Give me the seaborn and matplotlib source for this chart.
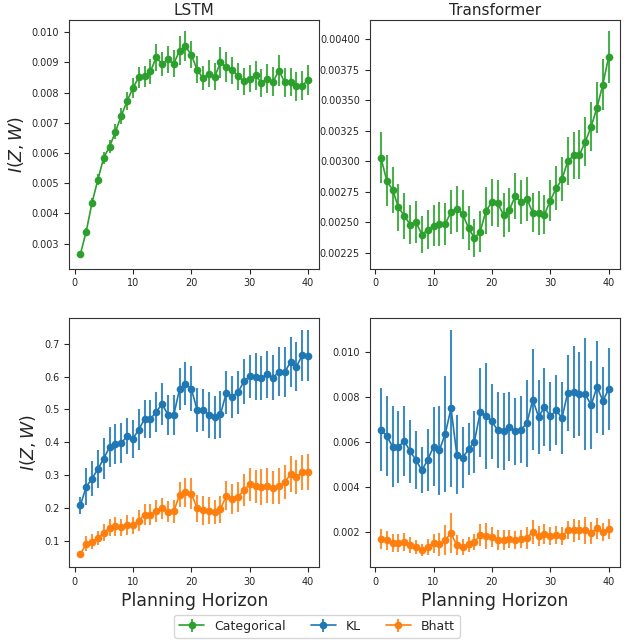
import numpy as np
import matplotlib
matplotlib.use("Agg")
import matplotlib.pyplot as plt
import seaborn as sns
from matplotlib.container import ErrorbarContainer

sns.set_style("ticks")
plt.rcParams.update({
    'font.family': ['DejaVu Sans'],
    'xtick.labelsize': 7,
    'ytick.labelsize': 7,
    'axes.edgecolor': '0.2',
})

horizon = list(range(1, 41))

# LSTM, categorical
lstm_cat = [0.00265, 0.00340, 0.00436, 0.00512, 0.00585, 0.00621, 0.00670, 0.00723,
            0.00772, 0.00815, 0.00851, 0.00854, 0.00870, 0.00917, 0.00894, 0.00910,
            0.00896, 0.00939, 0.00953, 0.00925, 0.00876, 0.00847, 0.00862, 0.00852,
            0.00900, 0.00884, 0.00874, 0.00854, 0.00838, 0.00846, 0.00858, 0.00832,
            0.00846, 0.00836, 0.00873, 0.00834, 0.00835, 0.00821, 0.00823, 0.00842]
lstm_cat_err = [0.00010, 0.00012, 0.00015, 0.00018, 0.00020, 0.00022, 0.00025, 0.00027,
                0.00030, 0.00033, 0.00035, 0.00035, 0.00040, 0.00045, 0.00040, 0.00045,
                0.00045, 0.00048, 0.00050, 0.00045, 0.00045, 0.00040, 0.00045, 0.00045,
                0.00050, 0.00050, 0.00045, 0.00045, 0.00045, 0.00045, 0.00048, 0.00047,
                0.00048, 0.00048, 0.00050, 0.00048, 0.00047, 0.00048, 0.00048, 0.00050]

# Transformer, categorical
tf_cat = [0.003029, 0.002841, 0.002767, 0.002622, 0.002554, 0.002482, 0.002502, 0.002400,
          0.002439, 0.002474, 0.002488, 0.002488, 0.002584, 0.002611, 0.002565, 0.002455,
          0.002370, 0.002425, 0.002597, 0.002663, 0.002655, 0.002562, 0.002603, 0.002715,
          0.002666, 0.002693, 0.002578, 0.002578, 0.002562, 0.002679, 0.002778, 0.002852,
          0.003002, 0.003048, 0.003054, 0.003161, 0.003284, 0.003440, 0.003628, 0.003855]
tf_cat_err = [0.00021, 0.00021, 0.00019, 0.00019, 0.00019, 0.00016, 0.00017, 0.00015,
              0.00016, 0.00017, 0.00018, 0.00017, 0.00018, 0.00019, 0.00020, 0.00018,
              0.000156, 0.00017, 0.00019, 0.00019, 0.00019, 0.00018, 0.00018, 0.00019,
              0.00018, 0.00018, 0.00016, 0.00018, 0.00016, 0.00017, 0.00018, 0.00018,
              0.00020, 0.00019, 0.00020, 0.00020, 0.00020, 0.00021, 0.00021, 0.00021]

# LSTM, KL and Bhattacharyya
lstm_kl = [0.207, 0.264, 0.289, 0.318, 0.350, 0.385, 0.394, 0.396, 0.419, 0.411,
           0.438, 0.471, 0.471, 0.492, 0.517, 0.483, 0.483, 0.563, 0.578, 0.563,
           0.498, 0.498, 0.484, 0.476, 0.485, 0.551, 0.539, 0.552, 0.585, 0.601,
           0.599, 0.595, 0.607, 0.596, 0.615, 0.613, 0.645, 0.630, 0.665, 0.664]
lstm_kl_err = [0.026, 0.057, 0.053, 0.058, 0.062, 0.060, 0.060, 0.061, 0.056, 0.058,
               0.062, 0.059, 0.059, 0.062, 0.064, 0.062, 0.060, 0.064, 0.065, 0.069,
               0.066, 0.065, 0.070, 0.066, 0.071, 0.066, 0.064, 0.066, 0.069, 0.066,
               0.072, 0.067, 0.071, 0.069, 0.074, 0.076, 0.077, 0.075, 0.078, 0.078]
lstm_bh = [0.059, 0.090, 0.096, 0.108, 0.124, 0.139, 0.144, 0.141, 0.148, 0.147,
           0.161, 0.179, 0.179, 0.191, 0.198, 0.188, 0.189, 0.240, 0.247, 0.243,
           0.199, 0.193, 0.191, 0.188, 0.196, 0.237, 0.228, 0.233, 0.254, 0.271,
           0.266, 0.263, 0.267, 0.261, 0.266, 0.278, 0.302, 0.294, 0.308, 0.309]
lstm_bh_err = [0.005, 0.023, 0.023, 0.022, 0.026, 0.026, 0.029, 0.026, 0.030, 0.026,
               0.032, 0.031, 0.031, 0.033, 0.031, 0.032, 0.035, 0.039, 0.045, 0.047,
               0.041, 0.044, 0.041, 0.037, 0.041, 0.045, 0.046, 0.046, 0.048, 0.051,
               0.050, 0.054, 0.053, 0.051, 0.054, 0.052, 0.055, 0.052, 0.053, 0.055]

# Transformer, KL and Bhattacharyya
tf_kl = [0.00656, 0.00626, 0.00580, 0.00580, 0.00604, 0.00559, 0.00520, 0.00474,
         0.00520, 0.00580, 0.00563, 0.00636, 0.00750, 0.00544, 0.00531, 0.00568,
         0.00602, 0.00733, 0.00717, 0.00692, 0.00653, 0.00648, 0.00669, 0.00648,
         0.00656, 0.00684, 0.00790, 0.00712, 0.00757, 0.00715, 0.00742, 0.00708,
         0.00821, 0.00824, 0.00814, 0.00814, 0.00765, 0.00847, 0.00784, 0.00836]
tf_kl_err = [0.00185, 0.00179, 0.00180, 0.00161, 0.00157, 0.00140, 0.00130, 0.00103,
             0.00139, 0.00177, 0.00199, 0.00257, 0.00352, 0.00176, 0.00137, 0.00117,
             0.00139, 0.00199, 0.00236, 0.00168, 0.00169, 0.00171, 0.00154, 0.00150,
             0.00149, 0.00194, 0.00226, 0.00166, 0.00173, 0.00154, 0.00156, 0.00159,
             0.00170, 0.00207, 0.00188, 0.00250, 0.00198, 0.00206, 0.00153, 0.00182]
tf_bh = [0.00167, 0.00161, 0.00149, 0.00149, 0.00154, 0.00142, 0.00133, 0.00120,
         0.00133, 0.00148, 0.00143, 0.00163, 0.00193, 0.00139, 0.00133, 0.00143,
         0.00155, 0.00184, 0.00181, 0.00175, 0.00164, 0.00164, 0.00169, 0.00164,
         0.00166, 0.00172, 0.00199, 0.00181, 0.00191, 0.00179, 0.00185, 0.00179,
         0.00206, 0.00206, 0.00206, 0.00206, 0.00194, 0.00215, 0.00200, 0.00212]
tf_bh_err = [0.00046, 0.00044, 0.00040, 0.00040, 0.00038, 0.00035, 0.00032, 0.00027,
             0.00035, 0.00042, 0.00050, 0.00065, 0.00090, 0.00045, 0.00035, 0.00032,
             0.00035, 0.00050, 0.00060, 0.00045, 0.00045, 0.00045, 0.00040, 0.00040,
             0.00040, 0.00048, 0.00055, 0.00043, 0.00045, 0.00040, 0.00040, 0.00040,
             0.00040, 0.00050, 0.00045, 0.00060, 0.00050, 0.00048, 0.00040, 0.00045]

pal = sns.color_palette("tab10")
colors = {'Categorical': pal[2], 'KL': pal[0], 'Bhatt': pal[1]}


def draw(ax, y, err, name):
    c = colors[name]
    eb = ax.errorbar(horizon, y, yerr=err, fmt='none', ecolor=c,
                     elinewidth=1.5, alpha=0.85, zorder=2)
    sns.lineplot(x=horizon, y=y, ax=ax, color=c, marker='o', markersize=5.5,
                 markeredgewidth=0, linewidth=1.2, zorder=3)
    line = ax.get_lines()[-1]
    return ErrorbarContainer((line, (), eb.lines[2]), has_xerr=False,
                             has_yerr=True, label=name)


fig, axes = plt.subplots(2, 2, figsize=(6.34, 6.44), dpi=100)
fig.subplots_adjust(left=0.1088, right=0.978, top=0.969, bottom=0.1196,
                    wspace=0.2, hspace=0.2)

h_cat = draw(axes[0, 0], lstm_cat, lstm_cat_err, 'Categorical')
draw(axes[0, 1], tf_cat, tf_cat_err, 'Categorical')
h_kl = draw(axes[1, 0], lstm_kl, lstm_kl_err, 'KL')
h_bh = draw(axes[1, 0], lstm_bh, lstm_bh_err, 'Bhatt')
draw(axes[1, 1], tf_kl, tf_kl_err, 'KL')
draw(axes[1, 1], tf_bh, tf_bh_err, 'Bhatt')

axes[0, 0].set_title('LSTM', fontsize=11, pad=3.5)
axes[0, 1].set_title('Transformer', fontsize=11, pad=3.5)
for ax in axes[:, 0]:
    ax.set_ylabel('$I(Z, W)$', fontsize=12.5)
for ax in axes[1, :]:
    ax.set_xlabel('Planning Horizon', fontsize=12.5)
for ax in axes.flat:
    ax.set_xticks([0, 10, 20, 30, 40])

fig.legend(handles=[h_cat, h_kl, h_bh], loc='lower center',
           bbox_to_anchor=(0.5, 0.0), ncol=3, fontsize=9)

fig.savefig('out.png', dpi=100)
